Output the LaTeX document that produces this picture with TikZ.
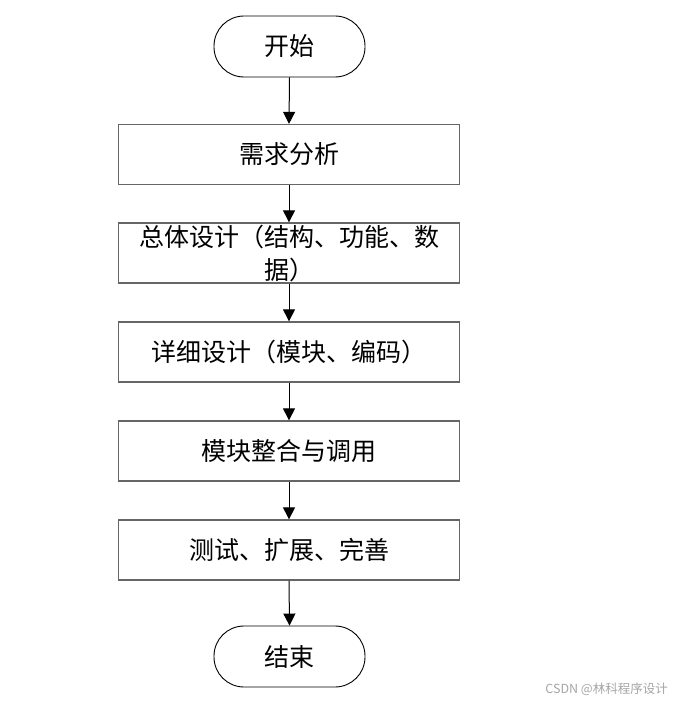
\documentclass[tikz,border=0pt]{standalone}
\usepackage{fontspec}
\newfontfamily\cjk{Noto Sans CJK SC}
\usetikzlibrary{arrows.meta}
\begin{document}
\begin{tikzpicture}[x=1pt,y=-1pt,
  term/.style={draw=black,line width=0.9pt,rounded corners=30pt,minimum width=151pt,minimum height=61pt,inner sep=0pt,font=\cjk\fontsize{25}{33}\selectfont},
  stepbox/.style={draw=gray!80!black,line width=1.3pt,minimum width=341pt,minimum height=60pt,inner sep=0pt,align=center,font=\cjk\fontsize{25}{33}\selectfont},
  arr/.style={draw=black,line width=1pt,-{Triangle[length=12pt,width=12pt]}}]
\useasboundingbox (0,0) rectangle (675,703);
\fill[white] (0,0) rectangle (675,703);
\node[term] (s) at (289.5,46.5) {开始};
\node[stepbox] (b1) at (289,154.5) {需求分析};
\node[stepbox] (b2) at (289,253) {总体设计（结构、功能、数\\据）};
\node[stepbox] (b3) at (289,352) {详细设计（模块、编码）};
\node[stepbox] (b4) at (289,451) {模块整合与调用};
\node[stepbox] (b5) at (289,550) {测试、扩展、完善};
\node[term] (e) at (289.5,656.5) {结束};
\draw[arr] (s.south) -- (b1.north);
\draw[arr] (b1.south) -- (b2.north);
\draw[arr] (b2.south) -- (b3.north);
\draw[arr] (b3.south) -- (b4.north);
\draw[arr] (b4.south) -- (b5.north);
\draw[arr] (b5.south) -- (e.north);
\node[anchor=east,inner sep=0pt,text=gray!70,font=\cjk\fontsize{12.5}{14}\selectfont] (wm) at (668,689) {CSDN @林科程序设计};
\end{tikzpicture}
\end{document}
